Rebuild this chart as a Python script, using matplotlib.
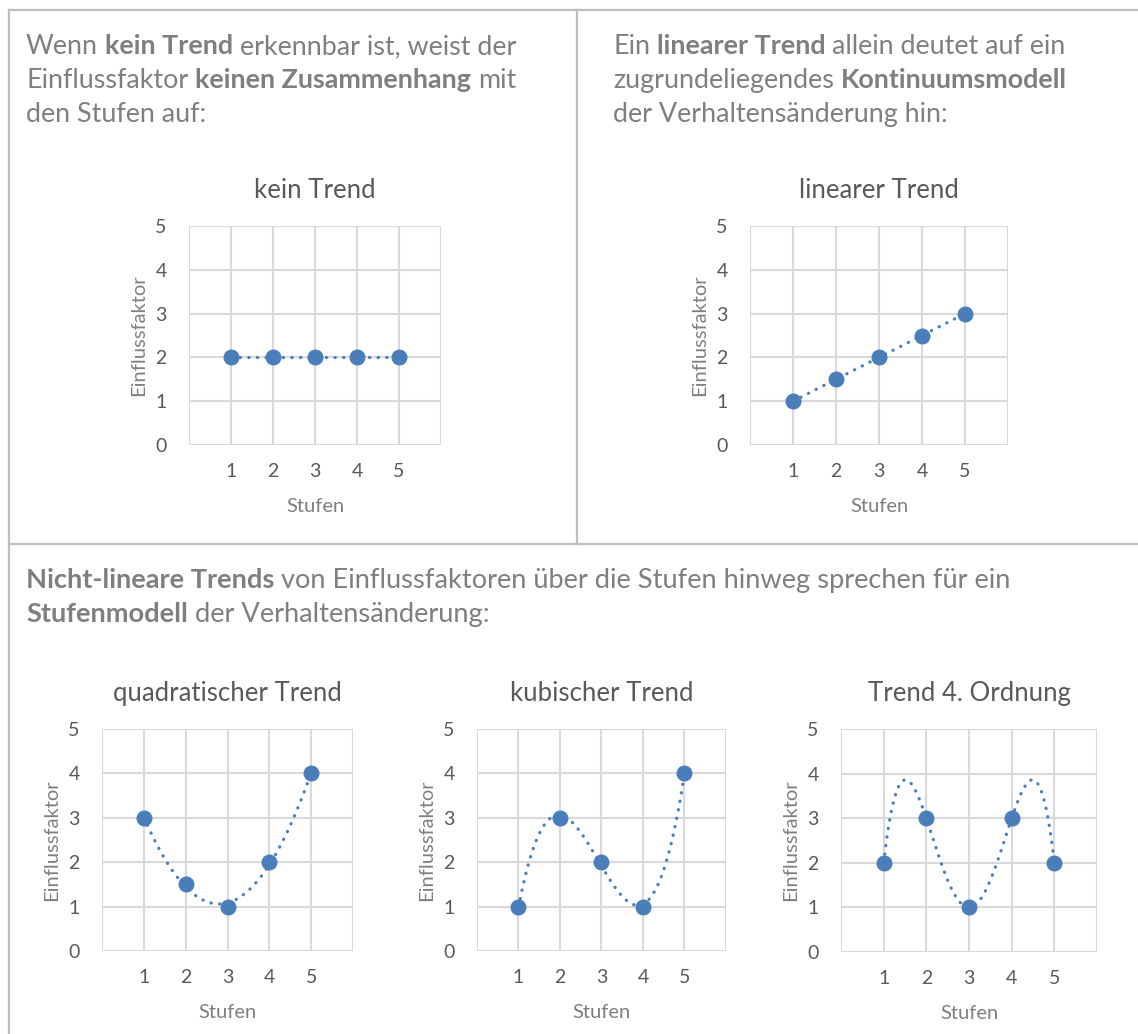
import numpy as np
import matplotlib
matplotlib.use("Agg")
import matplotlib.pyplot as plt

# ---------------- data ----------------
stufen = [1, 2, 3, 4, 5]
kein_trend = [2, 2, 2, 2, 2]
linearer_trend = [1, 1.5, 2, 2.5, 3]
quadratischer_trend = [3, 1.5, 1, 2, 4]
kubischer_trend = [1, 3, 2, 1, 4]
trend_4_ordnung = [2, 3, 1, 3, 2]

titles = ["kein Trend", "linearer Trend", "quadratischer Trend",
          "kubischer Trend", "Trend 4. Ordnung"]
fit_degrees = [0, 1, 2, 3, 4]
x_ticks = [1, 2, 3, 4, 5]
y_ticks = [0, 1, 2, 3, 4, 5]
x_label = "Stufen"
y_label = "Einflussfaktor"

text_left = [[("Wenn", False), ("kein Trend", True), ("erkennbar ist, weist der", False)],
             [("Einflussfaktor", False), ("keinen Zusammenhang", True), ("mit", False)],
             [("den Stufen auf:", False)]]
text_right = [[("Ein", False), ("linearer Trend", True), ("allein deutet auf ein", False)],
              [("zugrundeliegendes", False), ("Kontinuumsmodell", True)],
              [("der Verhaltensänderung hin:", False)]]
text_bottom = [[("Nicht-lineare Trends", True),
                ("von Einflussfaktoren über die Stufen hinweg sprechen für ein", False)],
               [("Stufenmodell", True), ("der Verhaltensänderung:", False)]]

# ---------------- style ----------------
W, H = 1138, 1034
FONT = "Lato"
plt.rcParams['font.family'] = [FONT, 'DejaVu Sans']
BLUE = "#4a7ebb"
GRID = "#d9d9d9"
BORDER = "#bfbfbf"
PARA = "#7f7f7f"
DARK = "#595959"

fig = plt.figure(figsize=(W / 100, H / 100), dpi=100)
renderer = fig.canvas.get_renderer()


def px(x, y):
    return x / W, 1 - y / H


def hline(y, x0, x1):
    fig.add_artist(plt.Line2D([x0 / W, x1 / W], [1 - y / H, 1 - y / H],
                              color=BORDER, lw=1.6, transform=fig.transFigure))


def vline(x, y0, y1):
    fig.add_artist(plt.Line2D([x / W, x / W], [1 - y0 / H, 1 - y1 / H],
                              color=BORDER, lw=1.6, transform=fig.transFigure))


hline(9.5, 8.5, W)
hline(543.5, 8.5, W)
vline(8.5, 9.5, H)
vline(576.5, 9.5, 543.5)


def rich_lines(x0, y0, lines, size, dy=34):
    t = fig.text(0, 0, "a a", fontsize=size)
    w1 = t.get_window_extent(renderer).width
    t.remove()
    t = fig.text(0, 0, "aa", fontsize=size)
    w2 = t.get_window_extent(renderer).width
    t.remove()
    space = w1 - w2
    for i, segs in enumerate(lines):
        x = x0
        y = y0 + i * dy
        for txt, bold in segs:
            t = fig.text(*px(x, y), txt, fontsize=size, color=PARA,
                         fontweight="bold" if bold else "normal",
                         va="baseline", ha="left")
            x += t.get_window_extent(renderer).width + space


rich_lines(26, 54, text_left, 19.4)
rich_lines(613, 54, text_right, 19.4)
rich_lines(26, 588, text_bottom, 19.6)

# ---------------- charts ----------------
boxes = [(189, 226, 441, 445),
         (750, 226, 1008, 445),
         (102, 729, 353, 951),
         (477, 729, 726, 951),
         (841, 729, 1097, 952)]
series = [kein_trend, linearer_trend, quadratischer_trend,
          kubischer_trend, trend_4_ordnung]

for box, ys, title, deg in zip(boxes, series, titles, fit_degrees):
    l, t_, r, b = box
    ax = fig.add_axes([l / W, 1 - b / H, (r - l) / W, (b - t_) / H])
    ax.set_xlim(0, 6)
    ax.set_ylim(0, 5)
    for gx in range(0, 7):
        ax.axvline(gx, color=GRID, lw=1.5, zorder=0)
    for gy in y_ticks:
        ax.axhline(gy, color=GRID, lw=1.5, zorder=0)
    for s in ax.spines.values():
        s.set_visible(False)
    ax.set_xticks(x_ticks)
    ax.set_yticks(y_ticks)
    ax.tick_params(length=0, labelsize=14, labelcolor=DARK, pad=13)
    ax.tick_params(axis="y", pad=16)
    ax.set_xlabel(x_label, fontsize=14.5, color=PARA, labelpad=13)
    ax.set_ylabel(y_label, fontsize=14.5, color=PARA, labelpad=6)
    ax.set_title(title, fontsize=18.5, color=DARK, pad=20)
    coef = np.polyfit(stufen, ys, deg)
    xs = np.linspace(min(stufen), max(stufen), 400)
    ax.plot(xs, np.polyval(coef, xs), color=BLUE, lw=2.3,
            linestyle=(0, (0.1, 2.6)), dash_capstyle="round", zorder=2)
    ax.plot(stufen, ys, "o", color=BLUE, markersize=10.5, zorder=3,
            clip_on=False)
    ax.set_facecolor("none")

fig.savefig("out.png", dpi=100, facecolor="white")
